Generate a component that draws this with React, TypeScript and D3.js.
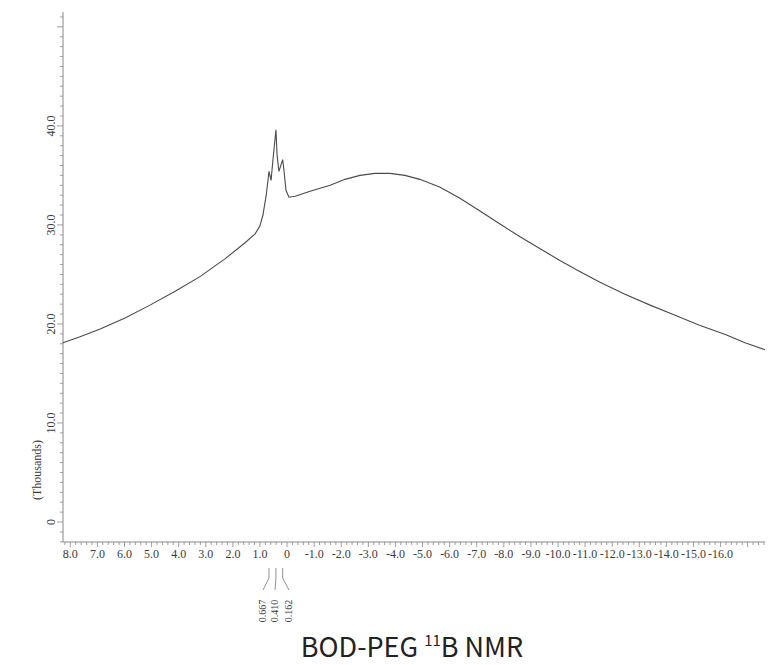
import React from "react";
import * as d3 from "d3";

const shiftPpm = [8.27, 7.64, 6.9, 5.98, 5.06, 4.13, 3.2, 2.28, 1.55, 1.18, 1.0, 0.89, 0.77, 0.667, 0.59, 0.52, 0.41, 0.37, 0.3, 0.162, 0.11, 0.04, -0.07, -0.3, -0.85, -1.59, -2.14, -2.69, -3.25, -3.8, -4.35, -4.9, -5.65, -6.38, -7.12, -7.86, -8.6, -9.34, -10.07, -10.8, -11.55, -12.47, -13.4, -14.3, -15.2, -16.2, -16.9, -17.64];
const intensityK = [18.1, 18.7, 19.5, 20.6, 21.9, 23.3, 24.8, 26.6, 28.2, 29.1, 29.9, 31.0, 33.0, 35.4, 34.5, 36.6, 39.6, 37.1, 35.4, 36.6, 35.4, 33.5, 32.8, 32.9, 33.4, 34.0, 34.6, 35.0, 35.2, 35.2, 35.0, 34.6, 33.8, 32.7, 31.4, 30.1, 28.8, 27.6, 26.4, 25.3, 24.2, 23.0, 21.9, 20.9, 19.9, 18.9, 18.1, 17.4];
const xTickLabels = [8, 7, 6, 5, 4, 3, 2, 1, 0, -1, -2, -3, -4, -5, -6, -7, -8, -9, -10, -11, -12, -13, -14, -15, -16];
const yTickLabels = [0, 10, 20, 30, 40];
const peakLabels = [0.667, 0.41, 0.162];

const W = 770, H = 665;
const X0 = 63, X1 = 765, YB = 522, YT = 12, AXIS_Y = 542;

export default function App() {
  const x = d3.scaleLinear().domain([8.27, -17.64]).range([X0, X1]);
  const y = d3.scaleLinear().domain([0, 51.5]).range([YB, YT]);
  const pts: [number, number][] = shiftPpm.map((p, i) => [p, intensityK[i]]);
  const line = d3.line<[number, number]>().x(d => x(d[0])).y(d => y(d[1]));

  const minorX: number[] = [];
  for (let i = 41; i >= -88; i--) minorX.push(i / 5);
  const minorY: number[] = [];
  for (let i = -2; i <= 51; i++) minorY.push(i);

  const fmt = (v: number) => (v === 0 ? "0" : v.toFixed(1));
  const serif = "'Liberation Serif', 'DejaVu Serif', serif";
  const axisColor = "#888";
  const textColor = "#3a3a3a";

  const labelX = [263, 275, 289];

  return (
    <svg width={W} height={H} style={{ position: "absolute", left: 0, top: 0, background: "#fff" }}>
      {/* y axis */}
      <line x1={X0} x2={X0} y1={YT} y2={AXIS_Y} stroke={axisColor} strokeWidth={1} />
      {minorY.map(v => (
        <line key={"ym" + v} x1={X0 - (v % 10 === 0 ? 6 : 3)} x2={X0} y1={y(v)} y2={y(v)} stroke={axisColor} strokeWidth={0.8} />
      ))}
      {yTickLabels.map(v => (
        <text key={"yl" + v} transform={`translate(${X0 - 8},${y(v)}) rotate(-90)`} textAnchor="middle" fontFamily={serif} fontSize={12} fill={textColor}>
          {fmt(v)}
        </text>
      ))}
      <text transform={`translate(41,470) rotate(-90)`} textAnchor="middle" fontFamily={serif} fontSize={12} fill={textColor}>
        (Thousands)
      </text>
      {/* x axis */}
      <line x1={X0} x2={X1} y1={AXIS_Y} y2={AXIS_Y} stroke={axisColor} strokeWidth={1} />
      {minorX.filter(v => x(v) >= X0 && x(v) <= X1).map(v => (
        <line key={"xm" + v} x1={x(v)} x2={x(v)} y1={AXIS_Y} y2={AXIS_Y + (Math.abs(v - Math.round(v)) < 1e-6 ? 5 : 3)} stroke={axisColor} strokeWidth={0.8} />
      ))}
      {xTickLabels.map(v => (
        <text key={"xl" + v} x={x(v)} y={558} textAnchor="middle" fontFamily={serif} fontSize={12} fill={textColor}>
          {fmt(v)}
        </text>
      ))}
      {/* spectrum */}
      <path d={line(pts) || ""} fill="none" stroke="#4a4a4a" strokeWidth={1.1} />
      {/* peak labels */}
      {peakLabels.map((p, i) => (
        <g key={"pk" + p}>
          <polyline points={`${x(p)},568 ${x(p)},578 ${labelX[i]},590`} fill="none" stroke="#777" strokeWidth={0.8} />
          <text transform={`translate(${labelX[i] + 3},611) rotate(-90)`} textAnchor="middle" fontFamily={serif} fontSize={10} fill={textColor}>
            {p.toFixed(3)}
          </text>
        </g>
      ))}
      {/* title */}
      <text x={412} y={657} textAnchor="middle" fontFamily="'Noto Sans CJK KR', 'DejaVu Sans', sans-serif" fontSize={27} fill="#222">
        BOD-PEG <tspan fontSize={15} dy={-11}>11</tspan><tspan dy={11}>B NMR</tspan>
      </text>
    </svg>
  );
}
